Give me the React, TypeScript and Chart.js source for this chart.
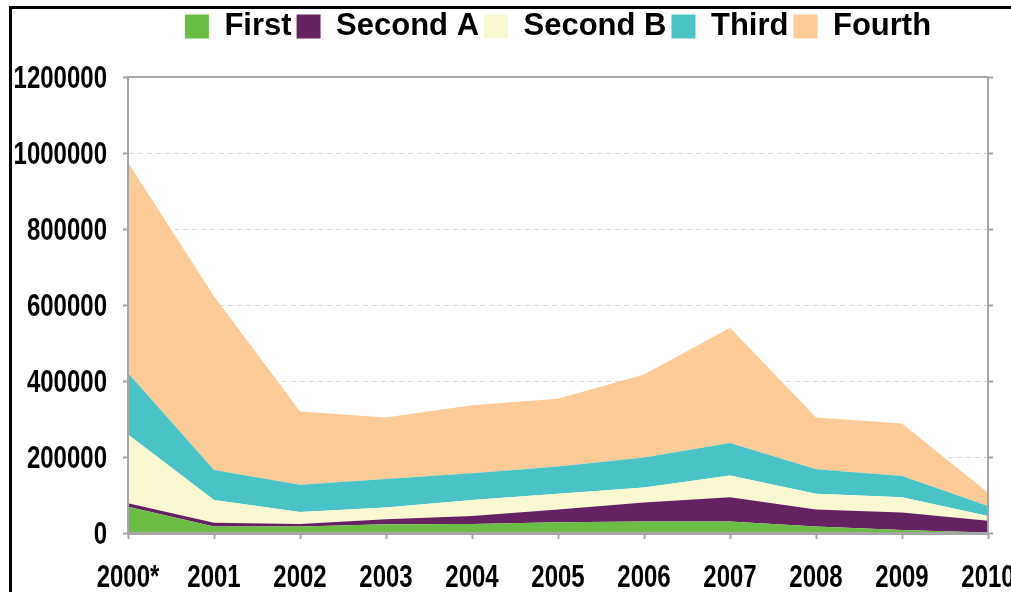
import { useEffect, useRef } from "react";
import { Chart, registerables } from "chart.js";

Chart.register(...registerables);

const years = ["2000*", "2001", "2002", "2003", "2004", "2005", "2006", "2007", "2008", "2009", "2010"];
const first = [69000, 17000, 17000, 23000, 24000, 28000, 30000, 30000, 17000, 8000, 1000];
const secondA = [9000, 10000, 7000, 13000, 21000, 34000, 50000, 64000, 45000, 46000, 31000];
const secondB = [181000, 60000, 31000, 31000, 42000, 41000, 40000, 57000, 41000, 40000, 13000];
const third = [162000, 79000, 72000, 75000, 70000, 72000, 79000, 86000, 65000, 56000, 26000];
const fourth = [554000, 457000, 193000, 162000, 179000, 178000, 218000, 303000, 136000, 138000, 35000];
const yTickValues = [0, 200000, 400000, 600000, 800000, 1000000, 1200000];

const seriesNames = ["First", "Second A", "Second B", "Third", "Fourth"];
const seriesColors = ["#6CBD45", "#642262", "#FAF8D0", "#4AC3C7", "#FCCB98"];

const FONT = "'Liberation Sans', Arial, sans-serif";
const AXIS_GRAY = "#a6a6a6";
const CONDENSE = 0.75;

const framePlugin = {
  id: "frame",
  afterDraw(chart: any) {
    const { ctx, chartArea } = chart;
    const { left, top, right, bottom } = chartArea;
    ctx.save();
    ctx.strokeStyle = AXIS_GRAY;
    ctx.lineWidth = 2;
    ctx.strokeRect(left, top, right - left, bottom - top);
    ctx.restore();
  },
};

// Tick labels drawn in a condensed face, positioned by the chart's own scales
const condensedTickLabels = {
  id: "condensedTickLabels",
  afterDraw(chart: any) {
    const ctx = chart.ctx;
    const xs = chart.scales.x;
    const ys = chart.scales.y;
    ctx.save();
    ctx.fillStyle = "#000";
    ctx.font = `bold 32px ${FONT}`;
    ctx.textBaseline = "middle";
    ctx.textAlign = "right";
    yTickValues.forEach((v) => {
      const y = ys.getPixelForValue(v);
      ctx.save();
      ctx.translate(ys.right - 21, y + 2);
      ctx.scale(CONDENSE, 1);
      ctx.fillText(String(v), 0, 0);
      ctx.restore();
    });
    ctx.textAlign = "center";
    years.forEach((lab, i) => {
      const x = xs.getPixelForTick(i);
      ctx.save();
      ctx.translate(x, xs.top + 45);
      ctx.scale(CONDENSE, 1);
      ctx.fillText(lab, 0, 0);
      ctx.restore();
    });
    ctx.restore();
  },
};

const legendSpacer = {
  id: "legendSpacer",
  beforeInit(chart: any) {
    const legend = chart.legend;
    if (!legend) return;
    const orig = legend.fit;
    legend.fit = function () {
      orig.call(this);
      this.height += 25;
    };
  },
};

export default function App() {
  const ref = useRef<HTMLCanvasElement | null>(null);

  useEffect(() => {
    if (!ref.current) return;
    const data = [first, secondA, secondB, third, fourth];
    const chart = new Chart(ref.current, {
      type: "line",
      data: {
        labels: years,
        datasets: data.map((d, i) => ({
          label: seriesNames[i],
          data: d,
          backgroundColor: seriesColors[i],
          borderColor: seriesColors[i],
          borderWidth: 0,
          pointRadius: 0,
          tension: 0,
          fill: i === 0 ? "origin" : "-1",
          yAxisID: "y",
        })),
      },
      options: {
        responsive: false,
        animation: false,
        layout: { padding: { left: 0, right: 0, top: 6, bottom: 0 } },
        plugins: {
          tooltip: { enabled: false },
          legend: {
            position: "top",
            fullSize: false,
            labels: {
              color: "#000",
              font: { family: FONT, size: 31, weight: "bold" },
              boxWidth: 24,
              boxHeight: 24,
              padding: 5,
            },
          },
        },
        scales: {
          x: {
            type: "category",
            offset: false,
            grid: {
              drawOnChartArea: false,
              drawTicks: true,
              tickLength: 6,
              tickColor: AXIS_GRAY,
              tickWidth: 2,
            },
            border: { display: true, color: AXIS_GRAY, width: 3 },
            ticks: { display: false, autoSkip: false, maxRotation: 0 },
            afterFit(scale: any) {
              scale.height = 59;
            },
          },
          y: {
            stacked: true,
            min: 0,
            max: 1200000,
            afterBuildTicks(scale: any) {
              scale.ticks = yTickValues.map((v) => ({ value: v }));
            },
            grid: {
              color: (c: any) => (c.tick && c.tick.value === 0 ? "rgba(0,0,0,0)" : "#d9d9d9"),
              lineWidth: 1,
              drawTicks: true,
              tickLength: 5,
              tickColor: AXIS_GRAY,
              tickWidth: 2,
            },
            border: { display: true, color: AXIS_GRAY, width: 2, dash: [5, 4] },
            ticks: { display: false },
            afterFit(scale: any) {
              scale.width = 128;
            },
          },
          y2: {
            position: "right",
            min: 0,
            max: 1200000,
            afterBuildTicks(scale: any) {
              scale.ticks = yTickValues.map((v) => ({ value: v }));
            },
            grid: {
              drawOnChartArea: false,
              drawTicks: true,
              tickLength: 5,
              tickColor: AXIS_GRAY,
              tickWidth: 2,
            },
            border: { display: true, color: AXIS_GRAY, width: 2 },
            ticks: { display: false },
            afterFit(scale: any) {
              scale.width = 23;
            },
          },
        },
      },
      plugins: [legendSpacer, framePlugin, condensedTickLabels],
    } as any);
    return () => chart.destroy();
  }, []);

  return (
    <div style={{ position: "fixed", left: 0, top: 0, width: 1011, height: 592, background: "#fff", overflow: "hidden" }}>
      <canvas ref={ref} width={1011} height={592} style={{ width: 1011, height: 592, display: "block" }} />
      <div
        style={{
          position: "absolute",
          left: 9,
          top: 6,
          width: 1011,
          height: 600,
          borderTop: "3px solid #000",
          borderLeft: "3px solid #000",
          pointerEvents: "none",
        }}
      />
    </div>
  );
}
